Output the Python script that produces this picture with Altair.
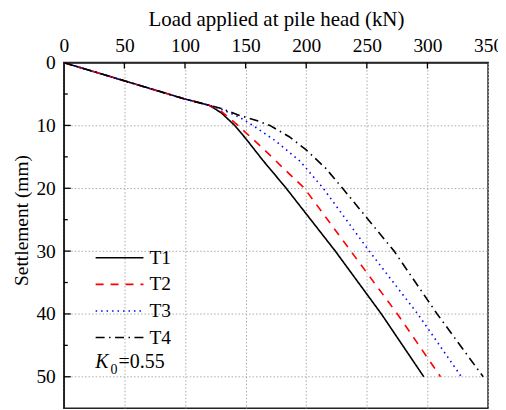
import altair as alt
import pandas as pd

series = ["T1", "T2", "T3", "T4"]
colors = ["#000000", "#ff0000", "#0000ff", "#000000"]
dashes = [[1, 0], [8, 7], [1.5, 4], [9, 4.5, 1.5, 4.5]]

common_load = [0, 50, 100, 120]
common_settle = [0, 2.9, 5.8, 6.8]

t1_load = [130, 141, 150.6, 164, 183.5, 224, 262, 297]
t1_settle = [8.0, 10, 12.2, 15.5, 20, 30, 40, 50]

t2_load = [129, 143.7, 164, 180, 198.5, 236.8, 275.2, 310.8]
t2_settle = [7.6, 10, 13.6, 16.6, 20, 30, 40, 50]

t3_load = [130, 145, 156, 175, 195, 214, 252, 292, 328]
t3_settle = [7.4, 8.7, 10, 12.5, 15.7, 20, 30, 40, 50]

t4_load = [130, 145, 159, 170, 186, 200, 216, 230, 272.5, 308, 346]
t4_settle = [7.3, 8.4, 9.2, 10, 11.8, 13.9, 16.8, 20, 30, 40, 50]

x_ticks = [0, 50, 100, 150, 200, 250, 300, 350]
y_ticks = [0, 10, 20, 30, 40, 50]
x_tick_marks = [50, 100, 150, 200, 250, 300]
y_major_marks = [10, 20, 30, 40, 50]
y_minor_marks = [5, 15, 25, 35, 45]

rows = []
for name, ld, st in zip(series, [t1_load, t2_load, t3_load, t4_load],
                        [t1_settle, t2_settle, t3_settle, t4_settle]):
    for a, b in zip(common_load + ld, common_settle + st):
        rows.append({"series": name, "load": a, "settle": b})
df = pd.DataFrame(rows)

FONT = "Liberation Serif"
W, H = 426, 347

xscale = alt.Scale(domain=[0, 350], nice=False, zero=False)
yscale = alt.Scale(domain=[0, 55], nice=False, zero=False, reverse=True)

leg = dict(title=None, orient="none", legendX=31, legendY=183,
           symbolType="stroke", symbolSize=2304, symbolStrokeWidth=1.6,
           clipHeight=26, rowPadding=0.7, labelOffset=5,
           labelFontSize=19.5, labelFont=FONT, labelColor="#000")

lines = alt.Chart(df).mark_line(strokeWidth=1.6, clip=True).encode(
    x=alt.X("load:Q", scale=xscale,
            axis=alt.Axis(orient="top", values=x_ticks, title="Load applied at pile head (kN)",
                          grid=True, ticks=False, labelPadding=7, labelFlush=False,
                          titleFontSize=21, titleY=-37, titleBaseline="alphabetic")),
    y=alt.Y("settle:Q", scale=yscale,
            axis=alt.Axis(values=y_ticks, title="Settlement (mm)", grid=True, ticks=False,
                          labelPadding=8.5, labelFlush=False,
                          titleX=-42, titleY=158, titleBaseline="middle",
                          titleAngle=-90)),
    color=alt.Color("series:N", scale=alt.Scale(domain=series, range=colors),
                    legend=alt.Legend(**leg)),
    strokeDash=alt.StrokeDash("series:N", scale=alt.Scale(domain=series, range=dashes),
                              legend=alt.Legend(**leg)),
)

xt = alt.Chart(pd.DataFrame({"load": x_tick_marks})).mark_rule(color="#000", strokeWidth=1.3).encode(
    x=alt.X("load:Q", scale=xscale), y=alt.value(0), y2=alt.value(6))
yt = alt.Chart(pd.DataFrame({"settle": y_major_marks})).mark_rule(color="#000", strokeWidth=1.3).encode(
    y=alt.Y("settle:Q", scale=yscale), x=alt.value(0), x2=alt.value(7))
ym = alt.Chart(pd.DataFrame({"settle": y_minor_marks})).mark_rule(color="#000", strokeWidth=1.3).encode(
    y=alt.Y("settle:Q", scale=yscale), x=alt.value(0), x2=alt.value(4))

k_txt = alt.Chart(pd.DataFrame({"t": ["K"]})).mark_text(
    font=FONT, fontSize=20, fontStyle="italic", align="left", baseline="alphabetic", color="#000"
).encode(x=alt.value(31.5), y=alt.value(306.5), text="t:N")
sub_txt = alt.Chart(pd.DataFrame({"t": ["0"]})).mark_text(
    font=FONT, fontSize=14, align="left", baseline="alphabetic", color="#000"
).encode(x=alt.value(47), y=alt.value(312.5), text="t:N")
eq_txt = alt.Chart(pd.DataFrame({"t": ["=0.55"]})).mark_text(
    font=FONT, fontSize=20, align="left", baseline="alphabetic", color="#000"
).encode(x=alt.value(55), y=alt.value(306.5), text="t:N")

chart = alt.layer(lines, xt, yt, ym, k_txt, sub_txt, eq_txt).properties(
    width=W, height=H,
    background="white",
    autosize=alt.AutoSizeParams(type="none"),
    padding={"left": 56, "top": 54, "right": 10, "bottom": 1},
).configure_view(stroke="#222", strokeWidth=1.5).configure_axis(
    labelFont=FONT, titleFont=FONT, labelFontSize=19.5, titleFontSize=19.5,
    labelColor="#000", titleColor="#000", titleFontWeight="normal",
    domainColor="#222", domainWidth=1.5,
    gridColor="#aaaaaa", gridDash=[1.5, 2], gridWidth=1,
)

chart.save("out.html", embed_options={"renderer": "svg", "actions": False})
